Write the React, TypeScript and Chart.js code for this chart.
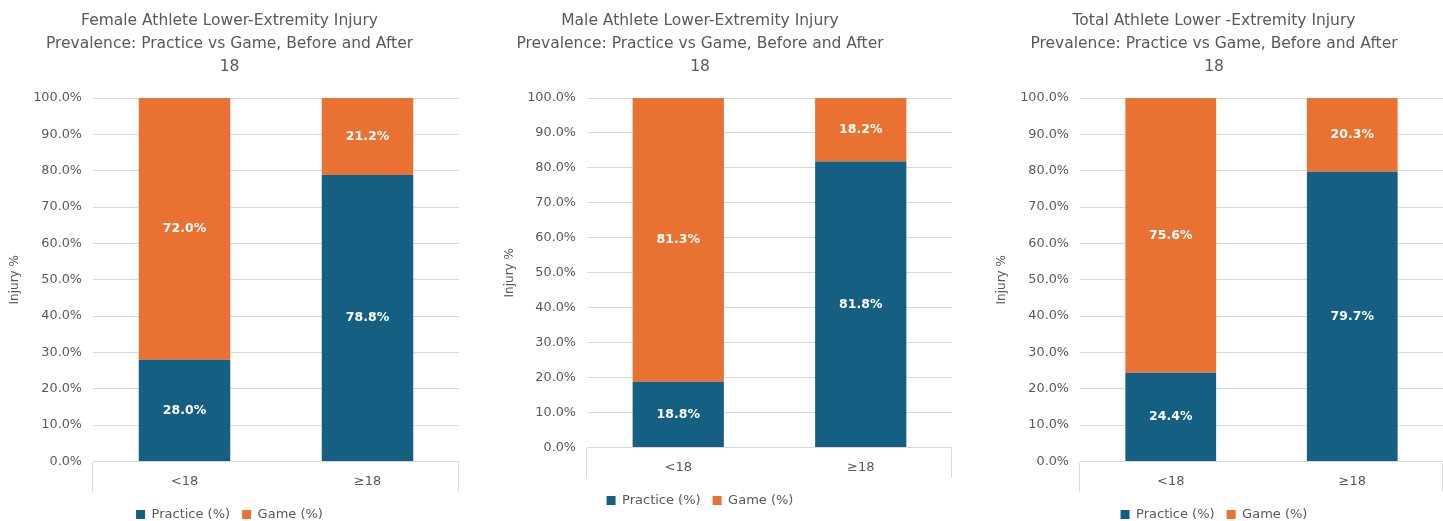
import React, { useEffect, useRef } from "react";
import { Chart, registerables } from "chart.js";

Chart.register(...registerables);

const categories = ["<18", "≥18"];
const seriesNames = ["Practice (%)", "Game (%)"];
const femalePractice = [28.0, 78.8];
const femaleGame = [72.0, 21.2];
const malePractice = [18.8, 81.8];
const maleGame = [81.3, 18.2];
const totalPractice = [24.4, 79.7];
const totalGame = [75.6, 20.3];
const yTicks = [0, 10, 20, 30, 40, 50, 60, 70, 80, 90, 100];
const femaleTitle = ["Female Athlete Lower-Extremity Injury", "Prevalence: Practice vs Game, Before and After", "18"];
const maleTitle = ["Male Athlete Lower-Extremity Injury", "Prevalence: Practice vs Game, Before and After", "18"];
const totalTitle = ["Total Athlete Lower -Extremity Injury", "Prevalence: Practice vs Game, Before and After", "18"];
const yAxisTitle = "Injury %";

const BLUE = "#156082";
const ORANGE = "#E97132";
const TEXT = "#595959";
const GRID = "#d9d9d9";
const FONT = "'DejaVu Sans', 'Open Sans', sans-serif";

const dataLabelPlugin = {
  id: "dataLabels",
  afterDatasetsDraw(chart: any) {
    const ctx = chart.ctx;
    ctx.save();
    ctx.fillStyle = "#ffffff";
    ctx.font = `bold 12.5px ${FONT}`;
    ctx.textAlign = "center";
    ctx.textBaseline = "middle";
    chart.data.datasets.forEach((ds: any, di: number) => {
      const meta = chart.getDatasetMeta(di);
      meta.data.forEach((el: any, i: number) => {
        const v = ds.data[i];
        const top = Math.max(el.y, chart.chartArea.top);
        const y = (top + el.base) / 2;
        ctx.fillText(v.toFixed(1) + "%", el.x, y);
      });
    });
    ctx.restore();
  },
};

const edgeLinesPlugin = {
  id: "edgeLines",
  afterDraw(chart: any) {
    const { ctx, chartArea } = chart;
    ctx.save();
    ctx.strokeStyle = GRID;
    ctx.lineWidth = 1;
    const b = Math.round(chartArea.bottom) + 0.5;
    [chartArea.left, chartArea.right].forEach((x: number) => {
      const px = Math.round(x) - 0.5;
      ctx.beginPath();
      ctx.moveTo(px, b);
      ctx.lineTo(px, b + 29);
      ctx.stroke();
    });
    ctx.restore();
  },
};

type Cfg = {
  title: string[];
  practice: number[];
  game: number[];
  left: number;
  width: number;
  height: number;
  yWidth: number;
  yTitlePad: number;
  padRight: number;
};

function StackChart({ cfg }: { cfg: Cfg }) {
  const ref = useRef<HTMLCanvasElement | null>(null);
  useEffect(() => {
    if (!ref.current) return;
    const chart = new Chart(ref.current, {
      type: "bar",
      data: {
        labels: categories,
        datasets: [
          { label: seriesNames[0], data: cfg.practice, backgroundColor: BLUE, categoryPercentage: 0.5, barPercentage: 1 },
          { label: seriesNames[1], data: cfg.game, backgroundColor: ORANGE, categoryPercentage: 0.5, barPercentage: 1 },
        ],
      },
      options: {
        animation: false,
        responsive: false,
        maintainAspectRatio: false,
        layout: { padding: { left: 0, right: cfg.padRight, top: 0, bottom: 0 } },
        plugins: {
          title: {
            display: true,
            text: cfg.title,
            color: TEXT,
            font: { family: FONT, size: 15.5, weight: "normal", lineHeight: 23 / 15.5 },
            padding: { top: 9, bottom: 20 },
          },
          legend: {
            display: true,
            position: "bottom",
            labels: {
              color: TEXT,
              font: { family: FONT, size: 13 },
              boxWidth: 9,
              boxHeight: 9,
              padding: 12,
            },
          },
          tooltip: { enabled: false },
        },
        scales: {
          x: {
            stacked: true,
            grid: { display: false, drawTicks: false },
            border: { display: false },
            ticks: { color: TEXT, font: { family: FONT, size: 13 }, padding: 12 },
            afterFit: (s: any) => { s.height = 34.5; },
          },
          y: {
            stacked: true,
            min: 0,
            max: 100,
            afterBuildTicks: (s: any) => { s.ticks = yTicks.map((v) => ({ value: v })); },
            grid: { color: GRID, drawTicks: false, lineWidth: 1 },
            border: { display: false },
            ticks: {
              color: TEXT,
              font: { family: FONT, size: 12.8 },
              padding: 11,
              callback: (v: any) => Number(v).toFixed(1) + "%",
            },
            title: {
              display: true,
              text: yAxisTitle,
              color: TEXT,
              font: { family: FONT, size: 12 },
              padding: { top: cfg.yTitlePad, bottom: 0 },
            },
            afterFit: (s: any) => { s.width = cfg.yWidth; },
          },
        },
      },
      plugins: [dataLabelPlugin, edgeLinesPlugin],
    } as any);
    return () => chart.destroy();
  }, [cfg]);
  return (
    <canvas
      ref={ref}
      width={cfg.width}
      height={cfg.height}
      style={{ position: "absolute", left: cfg.left, top: 0, width: cfg.width, height: cfg.height }}
    />
  );
}

const configs: Cfg[] = [
  { title: femaleTitle, practice: femalePractice, game: femaleGame, left: 0, width: 460, height: 531, yWidth: 93, yTitlePad: 8, padRight: 1 },
  { title: maleTitle, practice: malePractice, game: maleGame, left: 448, width: 504, height: 517, yWidth: 139, yTitlePad: 55, padRight: 0 },
  { title: totalTitle, practice: totalPractice, game: totalGame, left: 985, width: 458, height: 531, yWidth: 95, yTitlePad: 10, padRight: 0 },
];

export default function App() {
  return (
    <div
      style={{
        position: "fixed",
        left: 0,
        top: 0,
        width: 1443,
        height: 521,
        overflow: "hidden",
        background: "#ffffff",
      }}
    >
      {configs.map((c, i) => (
        <StackChart key={i} cfg={c} />
      ))}
    </div>
  );
}
